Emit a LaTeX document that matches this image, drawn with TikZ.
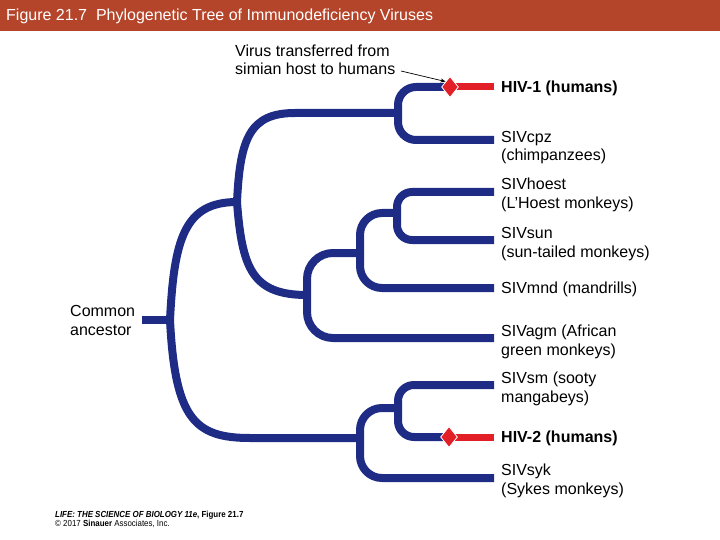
\documentclass[tikz,border=0pt]{standalone}
\usepackage{fontspec}
\setmainfont{Liberation Sans}
\newfontfamily\footfont[FakeStretch=0.9]{Liberation Sans}
\usetikzlibrary{shapes.geometric,arrows.meta}
\definecolor{navy}{RGB}{30,44,134}
\definecolor{hivred}{RGB}{226,30,38}
\definecolor{barcol}{RGB}{181,69,42}
\begin{document}
\begin{tikzpicture}[x=1pt,y=-1pt,
  branch/.style={draw=navy,line width=8pt,line cap=butt,line join=round},
  redbr/.style={draw=hivred,line width=7pt,line cap=butt},
  lbl/.style={anchor=base west,inner sep=0,font=\fontsize{16}{18.5}\selectfont,align=left},
  lblb/.style={anchor=base west,inner sep=0,font=\fontsize{16}{18.5}\selectfont\bfseries},
  diam/.style={diamond,fill=hivred,draw=white,line width=0.8pt,minimum width=17pt,minimum height=21pt,inner sep=0pt}]
\useasboundingbox (0,0) rectangle (720,540);
\fill[barcol] (0,0) rectangle (720,31);
\node[anchor=base west,inner sep=0,text=white,font=\fontsize{16}{18}\selectfont] (title) at (6,21) {Figure 21.7\ \ Phylogenetic Tree of Immunodeficiency Viruses};

% coordinates
\coordinate (stub) at (142,320);
\coordinate (root) at (170,320);
\coordinate (A) at (237,202);
\coordinate (F) at (360,438);
\coordinate (B) at (398,113);
\coordinate (C) at (307,295);
\coordinate (D) at (360,253);
\coordinate (E) at (397,213);
\coordinate (G) at (398,408);
\coordinate (h1) at (494,87);
\coordinate (cpz) at (494,140);
\coordinate (hoest) at (494,192);
\coordinate (sun) at (494,240);
\coordinate (mnd) at (494,288);
\coordinate (agm) at (494,338);
\coordinate (sm) at (494,385);
\coordinate (h2) at (494,437);
\coordinate (syk) at (494,478);
\coordinate (d1pos) at (450,87);
\coordinate (d2pos) at (449,437);

% tree
\draw[branch] (stub) -- (root);
\draw[branch] (root) .. controls (174,240) and (184,202) .. (A);
\draw[branch] (root) .. controls (175,418) and (194,438) .. (250,438) -- (F);
\draw[branch] (A) .. controls (240,138) and (250,113) .. (295,113) -- (B);
\draw[branch] (A) .. controls (242,268) and (252,295) .. (C);
\draw[branch,rounded corners=18pt] (B) |- (d1pos);
\draw[branch,rounded corners=18pt] (B) |- (cpz);
\draw[branch,rounded corners=26pt] (C) |- (D);
\draw[branch,rounded corners=26pt] (C) |- (agm);
\draw[branch,rounded corners=22pt] (D) |- (E);
\draw[branch,rounded corners=22pt] (D) |- (mnd);
\draw[branch,rounded corners=15pt] (E) |- (hoest);
\draw[branch,rounded corners=15pt] (E) |- (sun);
\draw[branch,rounded corners=22pt] (F) |- (G);
\draw[branch,rounded corners=22pt] (F) |- (syk);
\draw[branch,rounded corners=16pt] (G) |- (sm);
\draw[branch,rounded corners=16pt] (G) |- (d2pos);
\draw[redbr] (d1pos) -- (h1);
\draw[redbr] (d2pos) -- (h2);
\node[diam] (d1) at (d1pos) {};
\node[diam] (d2) at (d2pos) {};

% labels (base = baseline of last line)
\node[lblb] (lh1) at (501,93) {HIV-1 (humans)};
\node[lbl] (lcpz) at (501,161) {SIVcpz\\(chimpanzees)};
\node[lbl] (lhoest) at (501,208) {SIVhoest\\(L’Hoest monkeys)};
\node[lbl] (lsun) at (501,257) {SIVsun\\(sun-tailed monkeys)};
\node[lbl] (lmnd) at (501,293) {SIVmnd (mandrills)};
\node[lbl] (lagm) at (501,355) {SIVagm (African\\green monkeys)};
\node[lbl] (lsm) at (501,402) {SIVsm (sooty\\mangabeys)};
\node[lblb] (lh2) at (501,442) {HIV-2 (humans)};
\node[lbl] (lsyk) at (501,494) {SIVsyk\\(Sykes monkeys)};
\node[lbl] (lca) at (70,335) {Common\\ancestor};
\node[lbl] (lvir) at (235,75) {Virus transferred from\\simian host to humans};

\coordinate (vt) at (401,71);
\draw[-{Stealth[length=5pt,width=4pt]},line width=0.7pt] (vt) -- (d1.north west);

\node[anchor=base west,inner sep=0,font=\footfont\fontsize{8.8}{8.5}\selectfont,align=left] (foot) at (55,526)
  {\textbf{\textit{LIFE: THE SCIENCE OF BIOLOGY 11e}, Figure 21.7}\\\textcopyright{} 2017 \textbf{Sinauer} Associates, Inc.};
\end{tikzpicture}
\end{document}
